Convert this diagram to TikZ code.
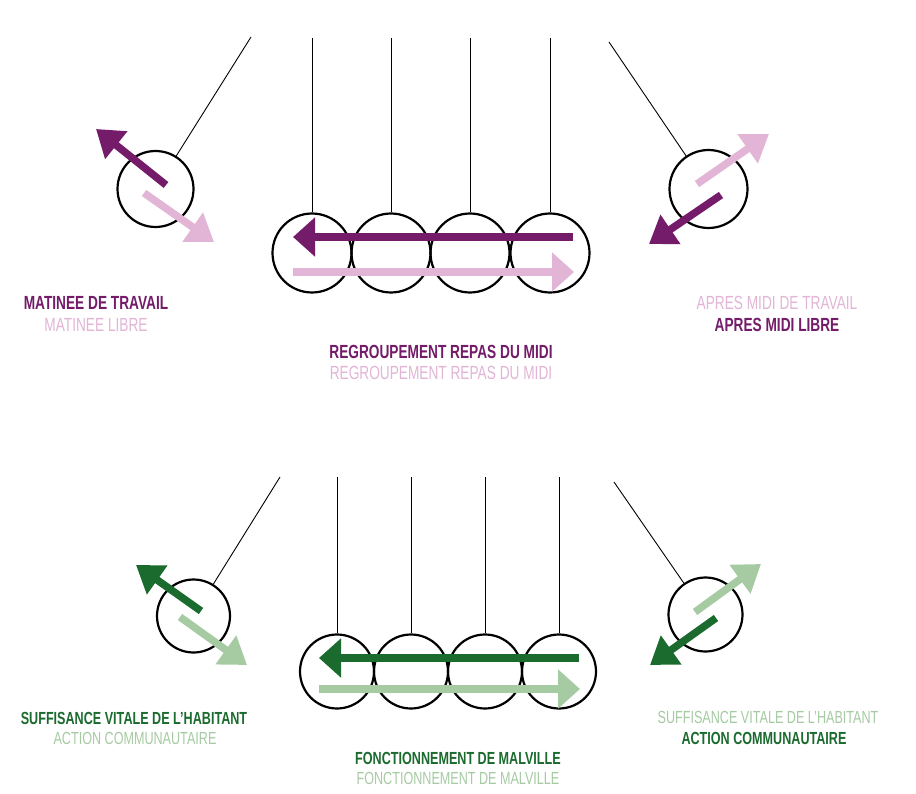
\documentclass[tikz,border=0pt]{standalone}
\usepackage{fontspec}
\usetikzlibrary{arrows.meta}
\newfontfamily\condreg[FakeStretch=0.72]{Liberation Sans}
\newfontfamily\condbold[FakeStretch=0.72]{Liberation Sans Bold}
\definecolor{pdark}{HTML}{741C6A}
\definecolor{plight}{HTML}{E2B5D6}
\definecolor{gdark}{HTML}{1B6B2F}
\definecolor{glight}{HTML}{A6CBA3}
\tikzset{
  ball/.style={draw=black, line width=2.2pt, circle, inner sep=0pt},
  bigball/.style={ball, minimum size=79pt},
  smallball/.style={ball, minimum size=74pt},
  thread/.style={draw=black, line width=0.9pt},
  bigarrow/.style={line width=8pt, -{Triangle[length=22pt,width=38pt]}},
  pendarrow/.style={line width=7.5pt, -{Triangle[length=26pt,width=34pt]}},
  darklab/.style={font=\condbold\fontsize{19}{21}\selectfont, inner sep=0pt},
  lightlab/.style={font=\condreg\fontsize{19}{21}\selectfont, inner sep=0pt},
  darklabs/.style={font=\condbold\fontsize{17.5}{19}\selectfont, inner sep=0pt},
  lightlabs/.style={font=\condreg\fontsize{17.5}{19}\selectfont, inner sep=0pt},
}
\begin{document}
\begin{tikzpicture}[x=1pt,y=-1pt]
\useasboundingbox[fill=white] (0,0) rectangle (916,794);

% ===== TOP GROUP =====
\foreach \i/\x in {1/312,2/391,3/470,4/550}{
  \node[bigball] (tb\i) at (\x,253) {};
  \coordinate (tt\i) at (\x,38);
  \draw[thread] (tt\i) -- (tb\i);
}
\node[ball, minimum size=76pt] (tl) at (155.5,189) {};
\coordinate (tlp) at (251,37);
\draw[thread] (tlp) -- (tl);
\node[ball, minimum size=78pt] (tr) at (708.5,189) {};
\coordinate (trp) at (609,42);
\draw[thread] (trp) -- (tr);

% horizontal arrows
\coordinate (ta1) at (573,237);
\coordinate (ta2) at (293,237);
\draw[bigarrow, pdark] (ta1) -- (ta2);
\coordinate (tb1s) at (293,272);
\coordinate (tb2s) at (574,272);
\draw[bigarrow, plight] (tb1s) -- (tb2s);

% left pendulum arrows
\coordinate (tla1) at (166,185);
\coordinate (tla2) at (96,129);
\draw[pendarrow, pdark] (tla1) -- (tla2);
\coordinate (tlb1) at (144,193);
\coordinate (tlb2) at (214,242);
\draw[pendarrow, plight] (tlb1) -- (tlb2);

% right pendulum arrows
\coordinate (tra1) at (697,184);
\coordinate (tra2) at (769,134);
\draw[pendarrow, plight] (tra1) -- (tra2);
\coordinate (trb1) at (721,195);
\coordinate (trb2) at (649,244);
\draw[pendarrow, pdark] (trb1) -- (trb2);

% labels
\node[darklab, text=pdark] (l1) at (96,303) {MATINEE DE TRAVAIL};
\node[lightlab, text=plight] (l2) at (96,325) {MATINEE LIBRE};
\node[darklab, text=pdark] (l3) at (441,352) {REGROUPEMENT REPAS DU MIDI};
\node[lightlab, text=plight] (l4) at (441,373) {REGROUPEMENT REPAS DU MIDI};
\node[lightlab, text=plight] (l5) at (777,303) {APRES MIDI DE TRAVAIL};
\node[darklab, text=pdark] (l6) at (777,325) {APRES MIDI LIBRE};

% ===== BOTTOM GROUP =====
\foreach \i/\x in {1/337,2/411,3/485,4/559}{
  \node[smallball] (bb\i) at (\x,671.5) {};
  \coordinate (bt\i) at (\x,477);
  \draw[thread] (bt\i) -- (bb\i);
}
\node[ball, minimum size=73pt] (bl) at (193.5,616) {};
\coordinate (blp) at (280,477);
\draw[thread] (blp) -- (bl);
\node[ball, minimum size=74pt] (br) at (705.5,614.5) {};
\coordinate (brp) at (614,482);
\draw[thread] (brp) -- (br);

\coordinate (ba1) at (579,658);
\coordinate (ba2) at (319,658);
\draw[bigarrow, gdark] (ba1) -- (ba2);
\coordinate (bb1s) at (319,689);
\coordinate (bb2s) at (580,689);
\draw[bigarrow, glight] (bb1s) -- (bb2s);

\coordinate (bla1) at (201,611);
\coordinate (bla2) at (136,565);
\draw[pendarrow, gdark] (bla1) -- (bla2);
\coordinate (blb1) at (180,617);
\coordinate (blb2) at (247,665);
\draw[pendarrow, glight] (blb1) -- (blb2);

\coordinate (bra1) at (695,612);
\coordinate (bra2) at (761,564);
\draw[pendarrow, glight] (bra1) -- (bra2);
\coordinate (brb1) at (716,618);
\coordinate (brb2) at (650,665);
\draw[pendarrow, gdark] (brb1) -- (brb2);

\node[darklabs, text=gdark] (m1) at (134,718) {SUFFISANCE VITALE DE L’HABITANT};
\node[lightlabs, text=glight] (m2) at (135,738) {ACTION COMMUNAUTAIRE};
\node[darklabs, text=gdark] (m3) at (458,758) {FONCTIONNEMENT DE MALVILLE};
\node[lightlabs, text=glight] (m4) at (458,778) {FONCTIONNEMENT DE MALVILLE};
\node[lightlabs, text=glight] (m5) at (768,717) {SUFFISANCE VITALE DE L’HABITANT};
\node[darklabs, text=gdark] (m6) at (764,738) {ACTION COMMUNAUTAIRE};
\end{tikzpicture}
\end{document}
